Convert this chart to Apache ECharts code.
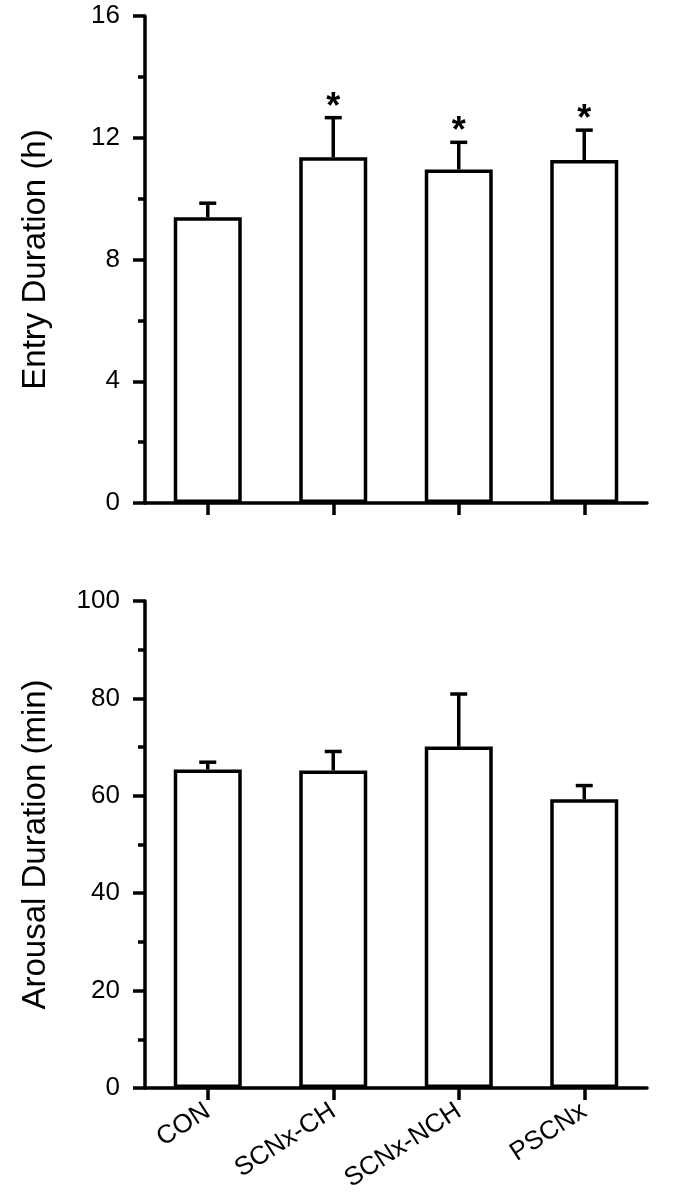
<!DOCTYPE html>
<html>
<head>
<meta charset="utf-8">
<script src="https://cdn.jsdelivr.net/npm/echarts@6/dist/echarts.min.js"></script>
<style>
html,body{margin:0;padding:0;background:#fff;}
#chart{width:688px;height:1199px;}
</style>
</head>
<body>
<div id="chart"></div>
<script>
const categories = ['CON', 'SCNx-CH', 'SCNx-NCH', 'PSCNx'];
const entryMeans = [9.39, 11.36, 10.96, 11.27];
const entryErrors = [0.46, 1.30, 0.89, 0.98];
const entrySignificant = [false, true, true, true];
const arousalMeans = [65.4, 65.2, 70.1, 59.3];
const arousalErrors = [1.5, 3.9, 10.8, 2.8];
const arousalSignificant = [false, false, false, false];
const entryTicks = { min: 0, max: 16, interval: 4 };
const arousalTicks = { min: 0, max: 100, interval: 20 };

const labelFont = '"Liberation Sans", Arial, sans-serif';

function errorItems(means, errs, sig) {
  return means.map((m, i) => [i, m, errs[i], sig[i] ? 1 : 0]);
}

function renderError(params, api) {
  const x = api.value(0);
  const m = api.value(1);
  const e = api.value(2);
  const s = api.value(3);
  const p0 = api.coord([x, m]);
  const p1 = api.coord([x, m + e]);
  const cap = 17;
  const style = { stroke: '#000', lineWidth: 3.5 };
  const children = [
    { type: 'line', shape: { x1: p0[0], y1: p0[1], x2: p1[0], y2: p1[1] }, style: style },
    { type: 'line', shape: { x1: p1[0] - cap / 2, y1: p1[1], x2: p1[0] + cap / 2, y2: p1[1] }, style: style }
  ];
  if (s) {
    children.push({
      type: 'text',
      style: {
        text: '*', x: p1[0], y: p1[1] - 10,
        align: 'center', verticalAlign: 'middle',
        font: 'bold 36px ' + labelFont, fill: '#000'
      }
    });
  }
  return { type: 'group', children: children };
}

function makeX(gridIndex, showLabels) {
  return {
    type: 'category', gridIndex: gridIndex, data: categories,
    axisLine: { lineStyle: { color: '#000', width: 3.5 } },
    axisTick: { show: true, alignWithLabel: true, length: 12, lineStyle: { color: '#000', width: 3.5 } },
    axisLabel: showLabels ? {
      show: true, rotate: 33, margin: 21, fontSize: 26, color: '#000', fontFamily: labelFont
    } : { show: false }
  };
}

function makeY(gridIndex, ticks, name) {
  return {
    type: 'value', gridIndex: gridIndex, min: ticks.min, max: ticks.max, interval: ticks.interval,
    name: name, nameLocation: 'middle', nameGap: 93,
    nameTextStyle: { fontSize: 33, color: '#000', fontFamily: labelFont },
    axisLine: { show: true, lineStyle: { color: '#000', width: 3.5 } },
    axisTick: { show: true, length: 12, lineStyle: { color: '#000', width: 3.5 } },
    minorTick: { show: true, splitNumber: 2, length: 7, lineStyle: { color: '#000', width: 3.5 } },
    splitLine: { show: false },
    axisLabel: { fontSize: 26, color: '#000', margin: 25, fontFamily: labelFont }
  };
}

const chart = echarts.init(document.getElementById('chart'), null, { renderer: 'canvas' });
chart.setOption({
  backgroundColor: '#fff',
  animation: false,
  grid: [
    { left: 145, right: 41, top: 16, height: 487 },
    { left: 145, right: 41, top: 601, height: 487 }
  ],
  xAxis: [makeX(0, false), makeX(1, true)],
  yAxis: [makeY(0, entryTicks, 'Entry Duration (h)'), makeY(1, arousalTicks, 'Arousal Duration (min)')],
  series: [
    {
      type: 'bar', xAxisIndex: 0, yAxisIndex: 0, data: entryMeans, barWidth: 68,
      itemStyle: { color: '#fff', borderColor: '#000', borderWidth: 3.5 }
    },
    {
      type: 'custom', xAxisIndex: 0, yAxisIndex: 0, z: 5,
      data: errorItems(entryMeans, entryErrors, entrySignificant), renderItem: renderError
    },
    {
      type: 'bar', xAxisIndex: 1, yAxisIndex: 1, data: arousalMeans, barWidth: 68,
      itemStyle: { color: '#fff', borderColor: '#000', borderWidth: 3.5 }
    },
    {
      type: 'custom', xAxisIndex: 1, yAxisIndex: 1, z: 5,
      data: errorItems(arousalMeans, arousalErrors, arousalSignificant), renderItem: renderError
    }
  ]
});
</script>
</body>
</html>
